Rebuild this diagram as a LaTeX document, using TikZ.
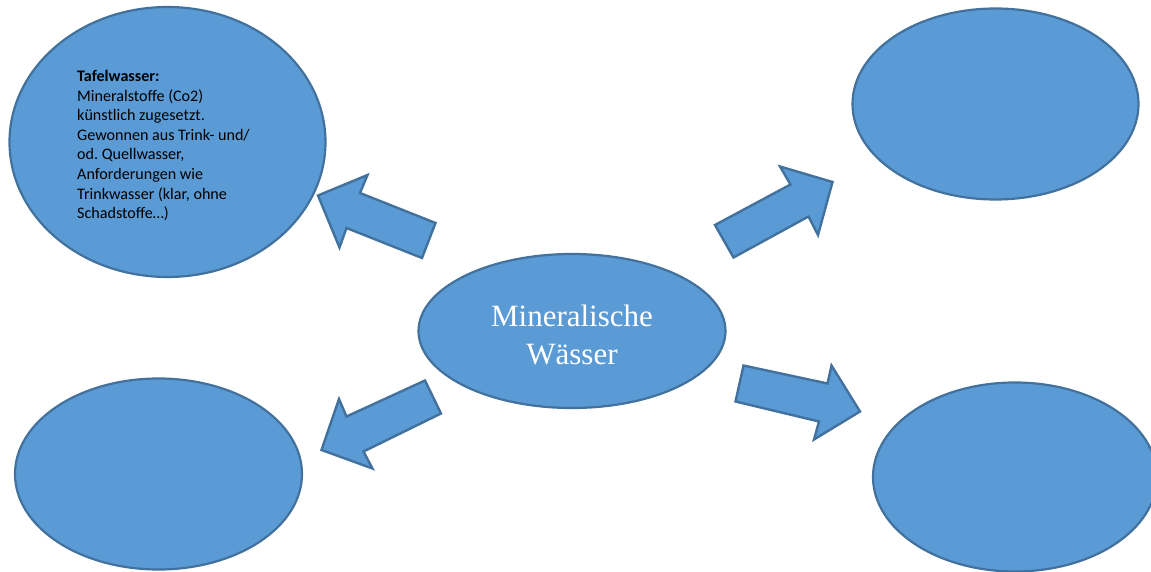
\documentclass[tikz,border=0pt]{standalone}
\usepackage{fontspec}
\setmainfont{Liberation Serif}
\newfontfamily\calibrifont{Carlito}
\usetikzlibrary{shapes.geometric}
\frenchspacing
\definecolor{officefill}{HTML}{5B9BD5}
\definecolor{officeline}{HTML}{41719C}
\tikzset{
  blob/.style={ellipse, draw=officeline, fill=officefill, line width=2.2pt, inner sep=0pt},
  blockarrow/.style={draw=officeline, fill=officefill, line width=2.4pt, line join=miter},
  smalltext/.style={font=\calibrifont\fontsize{16.1}{19.6}\selectfont, align=left, inner sep=0pt, anchor=north west, text=black},
  bigtext/.style={font=\fontsize{31}{38}\selectfont, align=center, text=white}
}
\begin{document}
\begin{tikzpicture}[x=1pt,y=-1pt]
\useasboundingbox (0,0) rectangle (1151,572);
\clip (0,0) rectangle (1151,572);
% ellipses
\node[blob, minimum width=316pt, minimum height=270pt] (tl) at (167.5,142) {};
\node[blob, minimum width=286pt, minimum height=191pt] (tr) at (995.5,104) {};
\node[blob, minimum width=287pt, minimum height=191pt] (bl) at (158.5,474) {};
\node[blob, minimum width=284pt, minimum height=189pt] (br) at (1015,477) {};
\node[blob, minimum width=307pt, minimum height=154pt] (center) at (572,331) {};
% texts
\node[bigtext] (centertext) at (572,335) {Mineralische\\Wässer};
\node[smalltext] (tltext) at (77,70) {\textbf{Tafelwasser:}\\Mineralstoffe (Co2)\\künstlich zugesetzt.\\Gewonnen aus Trink- und/\\od. Quellwasser,\\Anforderungen wie\\Trinkwasser (klar, ohne\\Schadstoffe…)};
% block arrows
\draw[blockarrow] (318,195.5) -- (367.5,175) -- (360,193) -- (435.5,223) -- (422,258) -- (346.5,228) -- (339.5,247.5) -- cycle;
\draw[blockarrow] (715,225) -- (790.5,184.5) -- (780,166.5) -- (832.5,182) -- (818,235) -- (808.5,216.5) -- (733.5,257.5) -- cycle;
\draw[blockarrow] (425,380.5) -- (441,413.5) -- (363.5,451.5) -- (372.5,468.5) -- (321.5,450) -- (339,399) -- (346.5,416.5) -- cycle;
\draw[blockarrow] (743.5,365.5) -- (827.5,383.5) -- (831.5,365.5) -- (860,411.5) -- (814,439.5) -- (819,421.5) -- (735.5,401.5) -- cycle;
\end{tikzpicture}
\end{document}
